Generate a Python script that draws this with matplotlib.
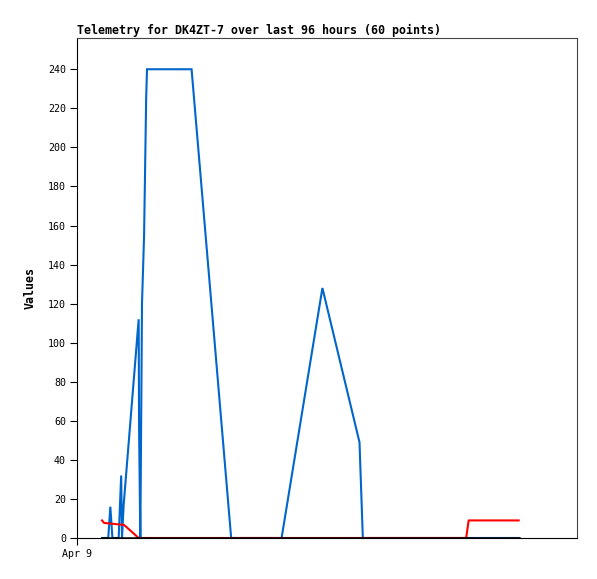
import matplotlib
matplotlib.use("Agg")
import matplotlib.pyplot as plt

# hours since Apr 9 00:00
blue_x = [6.0, 7.5, 8.0, 8.5, 10.0, 10.6, 10.8, 11.2, 14.8, 14.9, 15.1, 15.2,
          15.6, 16.1, 16.6, 16.8, 27.5, 37.0, 49.1, 58.9, 67.8, 68.6, 106.0]
blue_y = [0, 0, 16, 0, 0, 32, 0, 17, 112, 56, 18, 0,
          120, 155, 225, 240, 240, 0, 0, 128, 49, 0, 0]

red_x = [6.0, 6.5, 11.3, 14.8, 93.4, 94.0, 106.0]
red_y = [9, 7.7, 6.7, 0, 0, 9, 9]

black_x = [6.0, 106.0]
black_y = [0, 0]

yticks = [0, 20, 40, 60, 80, 100, 120, 140, 160, 180, 200, 220, 240]
xticks = [0]
xtick_labels = ["Apr 9"]

fig = plt.figure(figsize=(5.97, 5.79), dpi=100)
ax = fig.add_axes([77/597, 1 - 538/579, 500/597, 500/579])

mono = "DejaVu Sans Mono"
ax.plot(blue_x, blue_y, color="#0066CC", lw=1.5, solid_joinstyle="miter")
ax.plot(red_x, red_y, color="#FF0000", lw=1.5)
ax.plot(black_x, black_y, color="black", lw=1.8)

ax.set_xlim(0, 120)
ax.set_ylim(0, 256)
ax.set_yticks(yticks)
ax.set_yticklabels([str(v) for v in yticks], fontfamily=mono, fontsize=7.2)
ax.set_xticks(xticks)
ax.set_xticklabels(xtick_labels, fontfamily=mono, fontsize=7.2)
ax.tick_params(axis="both", direction="out", length=5, width=0.8, pad=3)

for s in ["top", "right"]:
    ax.spines[s].set_color("#444444")
    ax.spines[s].set_linewidth(0.8)
for s in ["left", "bottom"]:
    ax.spines[s].set_color("black")
    ax.spines[s].set_linewidth(0.8)

ax.set_title("Telemetry for DK4ZT-7 over last 96 hours (60 points)",
             loc="left", fontfamily=mono, fontweight="bold", fontsize=8.4, pad=3)
ax.set_ylabel("Values", fontfamily=mono, fontweight="bold", fontsize=8.4, labelpad=8)

fig.savefig("out.png", dpi=100, facecolor="white")
